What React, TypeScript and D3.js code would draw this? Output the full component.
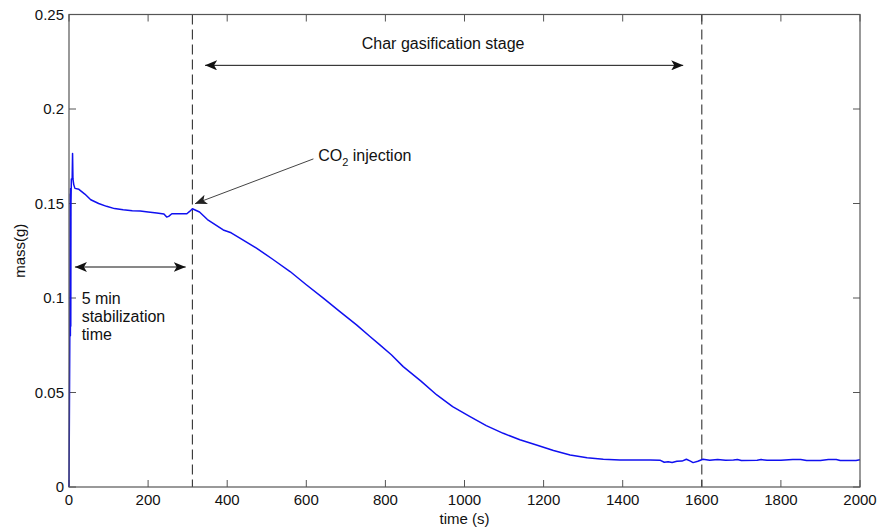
import React from "react";
import * as d3 from "d3";

const timeS = [0, 2, 3, 3.5, 4, 4.5, 5, 6, 8, 9, 10, 12, 15, 25, 40, 55, 75, 95, 115, 137, 160, 180, 200, 222, 240, 247, 252, 260, 280, 298, 305, 312, 330, 350, 390, 410, 430, 474, 515, 559, 600, 643, 685, 727, 761, 786, 815, 845, 890, 930, 970, 1014, 1055, 1098, 1140, 1182, 1225, 1267, 1310, 1351, 1393, 1430, 1470, 1494, 1505, 1515, 1525, 1537, 1550, 1561, 1570, 1578, 1590, 1603, 1620, 1640, 1660, 1680, 1690, 1700, 1740, 1750, 1765, 1800, 1830, 1850, 1865, 1900, 1920, 1940, 1950, 1990, 2000];
const massG = [0, 0.078, 0.155, 0.080, 0.158, 0.085, 0.150, 0.163, 0.163, 0.1765, 0.163, 0.160, 0.158, 0.1575, 0.155, 0.152, 0.150, 0.1485, 0.1473, 0.1467, 0.1462, 0.146, 0.1455, 0.145, 0.1445, 0.1428, 0.1432, 0.1446, 0.1446, 0.1446, 0.1458, 0.1472, 0.1455, 0.1415, 0.136, 0.1345, 0.132, 0.1264, 0.1205, 0.114, 0.107, 0.0999, 0.0928, 0.0858, 0.0796, 0.0752, 0.0700, 0.0637, 0.0560, 0.0487, 0.0425, 0.0372, 0.0325, 0.0284, 0.0250, 0.0222, 0.0193, 0.0169, 0.0155, 0.0147, 0.0143, 0.0143, 0.0143, 0.0142, 0.0131, 0.0134, 0.0130, 0.0136, 0.0137, 0.0147, 0.0138, 0.0129, 0.0136, 0.0147, 0.0141, 0.0145, 0.0141, 0.0143, 0.0146, 0.0140, 0.0141, 0.0145, 0.0141, 0.0141, 0.0145, 0.0145, 0.0140, 0.0140, 0.0145, 0.0146, 0.0140, 0.0140, 0.0144];

const xTicks = [0, 200, 400, 600, 800, 1000, 1200, 1400, 1600, 1800, 2000];
const yTicks = [0, 0.05, 0.1, 0.15, 0.2, 0.25];
const yTickLabels = ["0", "0.05", "0.1", "0.15", "0.2", "0.25"];
const stageLines = [312, 1600];

const W = 882, H = 532;
const FONT = "'Liberation Sans', Arial, Helvetica, sans-serif";

export default function App() {
  const x = d3.scaleLinear().domain([0, 2000]).range([69, 860]);
  const y = d3.scaleLinear().domain([0, 0.25]).range([487, 14.5]);
  const line = d3.line<number>().x((_, i) => x(timeS[i])).y((d) => y(d));
  const path = line(massG) || "";
  const axisColor = "#555";
  const tickLen = 7;

  return (
    <svg width={W} height={H} style={{ position: "absolute", left: 0, top: 0, background: "#fff" }} fontFamily={FONT}>
      <defs>
        <marker id="ah" viewBox="0 0 12 10" refX="12" refY="5" markerWidth="12" markerHeight="10" markerUnits="userSpaceOnUse" orient="auto-start-reverse">
          <path d="M0,0 L12,5 L0,10 L3,5 Z" fill="#111" />
        </marker>
        <marker id="ahg" viewBox="0 0 12 10" refX="12" refY="5" markerWidth="12" markerHeight="10" markerUnits="userSpaceOnUse" orient="auto">
          <path d="M0,0 L12,5 L0,10 L3,5 Z" fill="#222" />
        </marker>
      </defs>

      {xTicks.map((t) => (
        <g key={"xt" + t}>
          <line x1={x(t)} x2={x(t)} y1={y(0)} y2={y(0) - tickLen} stroke={axisColor} />
          <line x1={x(t)} x2={x(t)} y1={y(0.25)} y2={y(0.25) + tickLen} stroke={axisColor} />
          <text x={x(t)} y={505} fontSize={15} textAnchor="middle" fill="#111">{t}</text>
        </g>
      ))}
      {yTicks.map((v, i) => (
        <g key={"yt" + v}>
          <line x1={x(0)} x2={x(0) + tickLen} y1={y(v)} y2={y(v)} stroke={axisColor} />
          <line x1={x(2000)} x2={x(2000) - tickLen} y1={y(v)} y2={y(v)} stroke={axisColor} />
          <text x={64} y={y(v) + 5} fontSize={15} textAnchor="end" fill="#111">{yTickLabels[i]}</text>
        </g>
      ))}

      {stageLines.map((t) => (
        <line key={"sl" + t} x1={x(t)} x2={x(t)} y1={y(0.25)} y2={y(0)} stroke="#333" strokeWidth={1.1} strokeDasharray="10,5" />
      ))}

      <path d={path} fill="none" stroke="#1010f0" strokeWidth={1.5} strokeLinejoin="round" />

      <rect x={x(0)} y={y(0.25)} width={x(2000) - x(0)} height={y(0) - y(0.25)} fill="none" stroke={axisColor} strokeWidth={1.2} />

      <line x1={x(344)} x2={x(1553)} y1={y(0.2231)} y2={y(0.2231)} stroke="#111" strokeWidth={1} markerStart="url(#ah)" markerEnd="url(#ah)" />
      <text x={x(946)} y={y(0.2315)} fontSize={16} textAnchor="middle" fill="#111">Char gasification stage</text>

      <line x1={x(15)} x2={x(295)} y1={y(0.1164)} y2={y(0.1164)} stroke="#111" strokeWidth={1} markerStart="url(#ah)" markerEnd="url(#ah)" />
      <text x={x(32)} y={304} fontSize={16} fill="#111">
        <tspan x={x(32)} y={304}>5 min</tspan>
        <tspan x={x(32)} y={322}>stabilization</tspan>
        <tspan x={x(32)} y={340}>time</tspan>
      </text>

      <line x1={x(618)} y1={y(0.1736)} x2={x(318.6)} y2={y(0.1499)} stroke="#444" strokeWidth={1} markerEnd="url(#ahg)" />
      <text x={x(630)} y={y(0.1727)} fontSize={16} fill="#111">
        CO<tspan fontSize={11} dy={5}>2</tspan><tspan dy={-5}> injection</tspan>
      </text>

      <text x={(x(0) + x(2000)) / 2} y={524} fontSize={15} textAnchor="middle" fill="#111">time (s)</text>
      <text transform={`translate(25,${(y(0) + y(0.25)) / 2}) rotate(-90)`} fontSize={15} textAnchor="middle" fill="#111">mass(g)</text>
    </svg>
  );
}
